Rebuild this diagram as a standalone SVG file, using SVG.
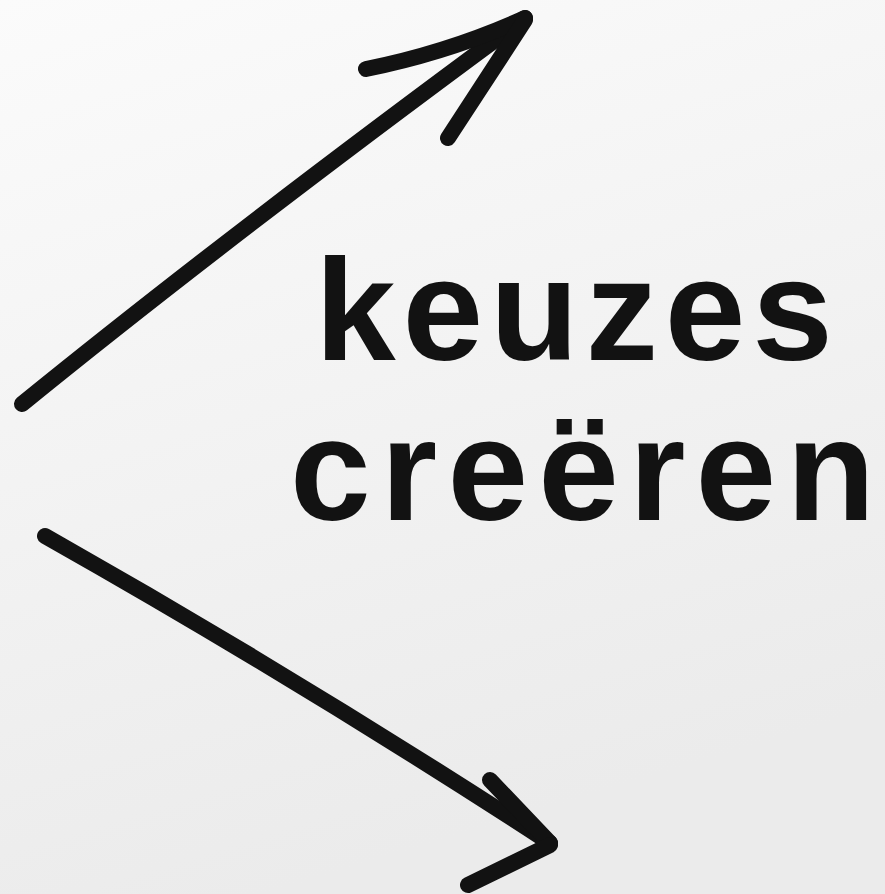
<svg xmlns="http://www.w3.org/2000/svg" width="885" height="894" viewBox="0 0 885 894">
<defs>
<linearGradient id="bg" x1="0" y1="0" x2="0.3" y2="1">
<stop offset="0" stop-color="#fbfbfb"/>
<stop offset="1" stop-color="#ebebeb"/>
</linearGradient>
<style>
.ink{fill:none;stroke:#121212;stroke-width:16;stroke-linecap:round;stroke-linejoin:round}
.t{font-family:"Liberation Sans",Arial,sans-serif;font-weight:bold;fill:#121212;font-size:145px}
</style>
</defs>
<rect width="885" height="894" fill="url(#bg)"/>
<g id="connectors">
<path class="ink" d="M22,404 Q230,235 525,18"/>
<path class="ink" d="M366,69 Q450,52 525,18"/>
<path class="ink" d="M448,138 L525,20"/>
<path class="ink" d="M45,536 Q300,680 550,843"/>
<path class="ink" d="M490,780 L550,843"/>
<path class="ink" d="M468,885 L550,845"/>
</g>
<g id="keuzes">
<text class="t" x="315" y="360" textLength="518" lengthAdjust="spacing">keuzes</text>
</g>
<g id="creeren">
<text class="t" x="290" y="520" textLength="585" lengthAdjust="spacing">creëren</text>
</g>
</svg>
